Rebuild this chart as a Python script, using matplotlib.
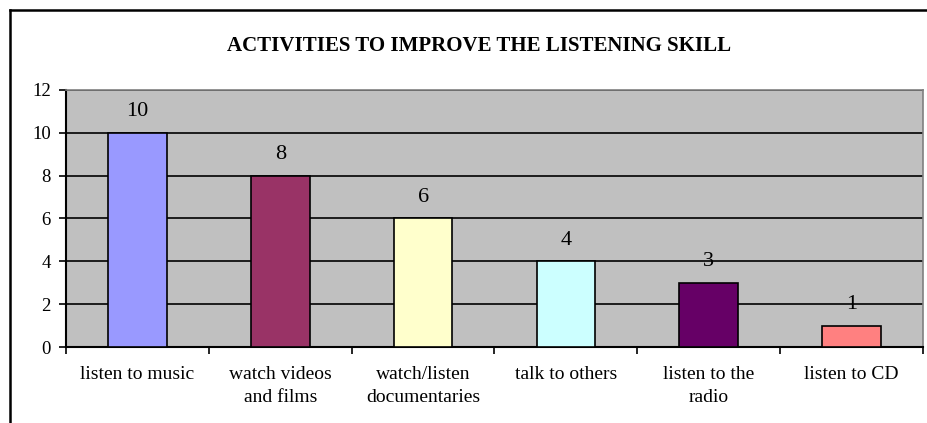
import numpy as np
import matplotlib
matplotlib.use('Agg')
import matplotlib.pyplot as plt
from matplotlib.lines import Line2D

plt.rcParams['font.family'] = ['Liberation Serif', 'DejaVu Serif']

categories = ["listen to music", "watch videos\nand films", "watch/listen\ndocumentaries",
              "talk to others", "listen to the\nradio", "listen to CD"]
values = [10, 8, 6, 4, 3, 1]
bar_colors = ["#9999FF", "#993366", "#FFFFCC", "#CCFFFF", "#660066", "#FF8080"]
yticks = [0, 2, 4, 6, 8, 10, 12]
title = "ACTIVITIES TO IMPROVE THE LISTENING SKILL"

W, H = 927, 423
fig = plt.figure(figsize=(W / 100, H / 100), dpi=100)

# plot area position in pixels
left, right, top, bottom = 66, 923, 90, 347
ax = fig.add_axes([left / W, (H - bottom) / H, (right - left) / W, (bottom - top) / H])
ax.set_facecolor("#C0C0C0")

x = np.arange(len(categories))
ax.bar(x, values, width=0.41, color=bar_colors, edgecolor="black", linewidth=1.2, zorder=3)

for xi, v in zip(x, values):
    ax.annotate(str(v), (xi, v), xytext=(0, 8.5), textcoords="offset points",
                ha="center", va="bottom", fontsize=16, zorder=4)

ax.set_xlim(-0.5, len(categories) - 0.5)
ax.set_ylim(0, 12)
ax.set_yticks(yticks)
ax.set_yticklabels([str(t) for t in yticks], fontsize=13.5)
ax.yaxis.grid(True, color="black", linewidth=1.2, zorder=1)
ax.set_axisbelow(True)

# category labels between boundary ticks
ax.set_xticks(x)
ax.set_xticklabels(categories, fontsize=14, linespacing=1.4)
ax.tick_params(axis="x", length=0, pad=14)
ax.set_xticks(np.arange(len(categories) + 1) - 0.5, minor=True)
ax.tick_params(axis="x", which="minor", length=5, width=1.2, direction="out", color="black")
ax.tick_params(axis="y", length=5, width=1.2, direction="out", pad=6)

ax.spines["left"].set_color("black")
ax.spines["left"].set_linewidth(1.5)
ax.spines["bottom"].set_color("black")
ax.spines["bottom"].set_linewidth(1.5)
ax.spines["top"].set_color("#808080")
ax.spines["right"].set_color("#808080")
ax.spines["top"].set_linewidth(1.2)
ax.spines["right"].set_linewidth(1.2)

fig.text(479 / W, 1 - 46 / H, title, ha="center", va="center",
         fontsize=15, fontweight="bold")

# outer chart border (top and left visible)
fig.add_artist(Line2D([10 / W, 10 / W], [0, 1 - 10 / H], color="black", linewidth=1.8,
                      transform=fig.transFigure))
fig.add_artist(Line2D([10 / W, 1], [1 - 10 / H, 1 - 10 / H], color="black", linewidth=1.8,
                      transform=fig.transFigure))

fig.savefig("out.png", dpi=100)
